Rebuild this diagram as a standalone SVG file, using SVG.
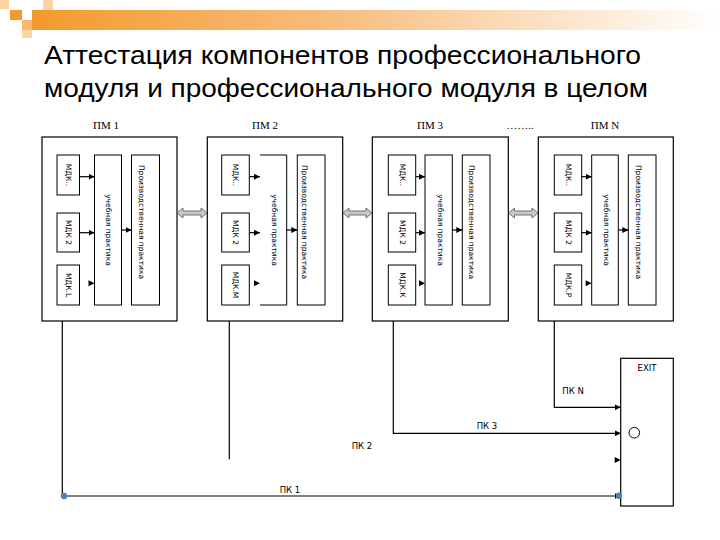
<svg xmlns="http://www.w3.org/2000/svg" width="720" height="540" viewBox="0 0 720 540">
<style>
.box{fill:#fff;stroke:#000;stroke-width:1.2}
.in{fill:#fff;stroke:#000;stroke-width:1}
.ln{fill:none;stroke:#000;stroke-width:1.2}
.pm{font-family:"Liberation Serif",serif;font-size:11px;fill:#000}
.vt{font-family:"DejaVu Sans","Liberation Sans",sans-serif;font-size:7.5px;fill:#000}
.pk{font-family:"DejaVu Sans","Liberation Sans",sans-serif;font-size:8.5px;fill:#000}
.title{font-family:"Liberation Sans",Arial,sans-serif;font-size:26px;fill:#000}
.dbl{fill:#c8c8c8;stroke:#555;stroke-width:0.8}
.dot{fill:#4F81BD}
</style>
<defs>
<linearGradient id="bar" x1="0" y1="0" x2="1" y2="0">
<stop offset="0" stop-color="#F39A2C"/>
<stop offset="0.45" stop-color="#F8BE80"/>
<stop offset="1" stop-color="#FFFFFF"/>
</linearGradient>
<marker id="ah" markerWidth="6" markerHeight="6" refX="6" refY="3" orient="auto" markerUnits="userSpaceOnUse">
<path d="M0,0 L6,3 L0,6 Z" fill="#000"/>
</marker>
</defs>
<rect width="720" height="540" fill="#fff"/>
<g id="decor">
<rect x="32" y="10" width="688" height="20" fill="url(#bar)"/>
<rect x="0" y="0" width="9" height="9" fill="#FBD3A5"/>
<rect x="43" y="0" width="10" height="10" fill="#FBD3A5"/>
<rect x="10" y="10" width="12" height="10" fill="#F39A2C"/>
<rect x="22" y="20" width="10" height="10" fill="#F8B86E"/>
<rect x="32" y="20" width="11" height="10" fill="#F39A2C"/>
<rect x="22" y="30" width="10" height="8" fill="#FBD3A5"/>
</g>
<g id="title">
<text class="title" x="44" y="64" textLength="597" lengthAdjust="spacingAndGlyphs">Аттестация компонентов профессионального</text>
<text class="title" x="44" y="97" textLength="604" lengthAdjust="spacingAndGlyphs">модуля и профессионального модуля в целом</text>
</g>
<g id="pm1">
<text class="pm" x="106" y="129" text-anchor="middle">ПМ 1</text>
<rect class="box" x="42" y="137" width="135" height="184"/>
<rect class="in" x="57" y="155" width="22.5" height="40"/>
<rect class="in" x="57" y="213" width="22.5" height="39"/>
<rect class="in" x="57" y="265" width="22.5" height="40"/>
<rect class="in" x="94.5" y="155" width="27" height="150"/>
<rect class="in" x="131.5" y="155" width="28" height="150"/>
<text class="vt" transform="translate(68,175) rotate(90)" text-anchor="middle" dominant-baseline="central">МДК..</text>
<text class="vt" transform="translate(68,232.5) rotate(90)" text-anchor="middle" dominant-baseline="central">МДК 2</text>
<text class="vt" transform="translate(68,285) rotate(90)" text-anchor="middle" dominant-baseline="central">МДК.L</text>
<text class="vt" transform="translate(108,230) rotate(90)" text-anchor="middle" dominant-baseline="central">учебная практика</text>
<text class="vt" transform="translate(141,222) rotate(90)" text-anchor="middle" dominant-baseline="central">Производственная практика</text>
</g>
<g id="pm2">
<text class="pm" x="265" y="129" text-anchor="middle">ПМ 2</text>
<rect class="box" x="207.3" y="137" width="135.4" height="184"/>
<rect class="in" x="221.7" y="155" width="27.6" height="40"/>
<rect class="in" x="221.7" y="213" width="27.6" height="39"/>
<rect class="in" x="221.7" y="265" width="27.6" height="40"/>
<path class="in" d="M260,155 H286.7 V305 H260"/>
<rect class="in" x="297.3" y="155" width="27.7" height="150"/>
<text class="vt" transform="translate(235.5,175) rotate(90)" text-anchor="middle" dominant-baseline="central">МДК..</text>
<text class="vt" transform="translate(235.5,232.5) rotate(90)" text-anchor="middle" dominant-baseline="central">МДК 2</text>
<text class="vt" transform="translate(235.5,285) rotate(90)" text-anchor="middle" dominant-baseline="central">МДК.М</text>
<text class="vt" transform="translate(274,230) rotate(90)" text-anchor="middle" dominant-baseline="central">учебная практика</text>
<text class="vt" transform="translate(304,222) rotate(90)" text-anchor="middle" dominant-baseline="central">Производственная практика</text>
</g>
<g id="pm3">
<text class="pm" x="430" y="129" text-anchor="middle">ПМ 3</text>
<text class="pm" x="520" y="129" text-anchor="middle">……..</text>
<rect class="box" x="372.3" y="137" width="136" height="184"/>
<rect class="in" x="388.3" y="155" width="27.4" height="40"/>
<rect class="in" x="388.3" y="213" width="27.4" height="39"/>
<rect class="in" x="388.3" y="265" width="27.4" height="40"/>
<rect class="in" x="425" y="155" width="27.3" height="150"/>
<rect class="in" x="462.3" y="155" width="27.7" height="150"/>
<text class="vt" transform="translate(402,175) rotate(90)" text-anchor="middle" dominant-baseline="central">МДК..</text>
<text class="vt" transform="translate(402,232.5) rotate(90)" text-anchor="middle" dominant-baseline="central">МДК 2</text>
<text class="vt" transform="translate(402,285) rotate(90)" text-anchor="middle" dominant-baseline="central">МДК.К</text>
<text class="vt" transform="translate(440,230) rotate(90)" text-anchor="middle" dominant-baseline="central">учебная практика</text>
<text class="vt" transform="translate(471,222) rotate(90)" text-anchor="middle" dominant-baseline="central">Производственная практика</text>
</g>
<g id="pmN">
<text class="pm" x="605" y="129" text-anchor="middle">ПМ N</text>
<rect class="box" x="538.3" y="137" width="135" height="184"/>
<rect class="in" x="554.3" y="155" width="27.4" height="40"/>
<rect class="in" x="554.3" y="213" width="27.4" height="39"/>
<rect class="in" x="554.3" y="265" width="27.4" height="40"/>
<rect class="in" x="591.7" y="155" width="26.6" height="150"/>
<rect class="in" x="628.3" y="155" width="27.7" height="150"/>
<text class="vt" transform="translate(568,175) rotate(90)" text-anchor="middle" dominant-baseline="central">МДК..</text>
<text class="vt" transform="translate(568,232.5) rotate(90)" text-anchor="middle" dominant-baseline="central">МДК 2</text>
<text class="vt" transform="translate(568,285) rotate(90)" text-anchor="middle" dominant-baseline="central">МДК.Р</text>
<text class="vt" transform="translate(606,230) rotate(90)" text-anchor="middle" dominant-baseline="central">учебная практика</text>
<text class="vt" transform="translate(638,222) rotate(90)" text-anchor="middle" dominant-baseline="central">Производственная практика</text>
</g>
<g id="exit">
<rect class="box" x="620.7" y="358.3" width="52.6" height="147.7"/>
<text class="pk" x="647" y="371" text-anchor="middle">EXIT</text>
<circle cx="634.3" cy="432.7" r="5.3" fill="none" stroke="#000" stroke-width="1"/>
</g>
<g id="connectors">
<!-- internal arrows PM1 -->
<line class="ln" x1="79.5" y1="176.7" x2="94.5" y2="176.7" marker-end="url(#ah)"/>
<line class="ln" x1="79.5" y1="232.7" x2="94.5" y2="232.7" marker-end="url(#ah)"/>
<path d="M88.5,280.3 L94.5,283.3 L88.5,286.3 Z"/>
<line class="ln" x1="121.5" y1="230" x2="131.5" y2="230" marker-end="url(#ah)"/>
<!-- PM2 -->
<line class="ln" x1="249.3" y1="176.7" x2="260" y2="176.7" marker-end="url(#ah)"/>
<line class="ln" x1="249.3" y1="232.7" x2="260" y2="232.7" marker-end="url(#ah)"/>
<path d="M254,280.3 L260,283.3 L254,286.3 Z"/>
<line class="ln" x1="286.7" y1="230" x2="297.3" y2="230" marker-end="url(#ah)"/>
<!-- PM3 -->
<line class="ln" x1="415.7" y1="176.7" x2="425" y2="176.7" marker-end="url(#ah)"/>
<line class="ln" x1="415.7" y1="232.7" x2="425" y2="232.7" marker-end="url(#ah)"/>
<path d="M419,280.3 L425,283.3 L419,286.3 Z"/>
<line class="ln" x1="452.3" y1="230" x2="462.3" y2="230" marker-end="url(#ah)"/>
<!-- PMN -->
<line class="ln" x1="581.7" y1="176.7" x2="591.7" y2="176.7" marker-end="url(#ah)"/>
<line class="ln" x1="581.7" y1="232.7" x2="591.7" y2="232.7" marker-end="url(#ah)"/>
<path d="M585.7,280.3 L591.7,283.3 L585.7,286.3 Z"/>
<line class="ln" x1="618.3" y1="230" x2="628.3" y2="230" marker-end="url(#ah)"/>
<!-- double arrows -->
<polygon class="dbl" points="177,213 183,208 183,211 201,211 201,208 207,213 201,218 201,215 183,215 183,218"/>
<polygon class="dbl" points="343,213 349,208 349,211 366,211 366,208 372,213 366,218 366,215 349,215 349,218"/>
<polygon class="dbl" points="508.5,213 514.5,208 514.5,211 532,211 532,208 538,213 532,218 532,215 514.5,215 514.5,218"/>
<!-- PK lines -->
<polyline class="ln" points="62.3,321 62.3,496 620.7,496" marker-end="url(#ah)"/>
<line class="ln" x1="229.3" y1="321" x2="229.3" y2="459.3"/>
<polyline class="ln" points="393.3,321 393.3,433.3 620.7,433.3" marker-end="url(#ah)"/>
<polyline class="ln" points="554.3,321 554.3,407.3 620.7,407.3" marker-end="url(#ah)"/>
<path d="M614.7,457 L620.7,460 L614.7,463 Z"/>
<circle class="dot" cx="64" cy="496" r="3.2"/>
<circle class="dot" cx="619" cy="495.7" r="3.2"/>
<text class="pk" x="290" y="493" text-anchor="middle">ПК 1</text>
<text class="pk" x="362" y="449" text-anchor="middle">ПК 2</text>
<text class="pk" x="487" y="429" text-anchor="middle">ПК 3</text>
<text class="pk" x="573" y="394" text-anchor="middle">ПК N</text>
</g>
</svg>
